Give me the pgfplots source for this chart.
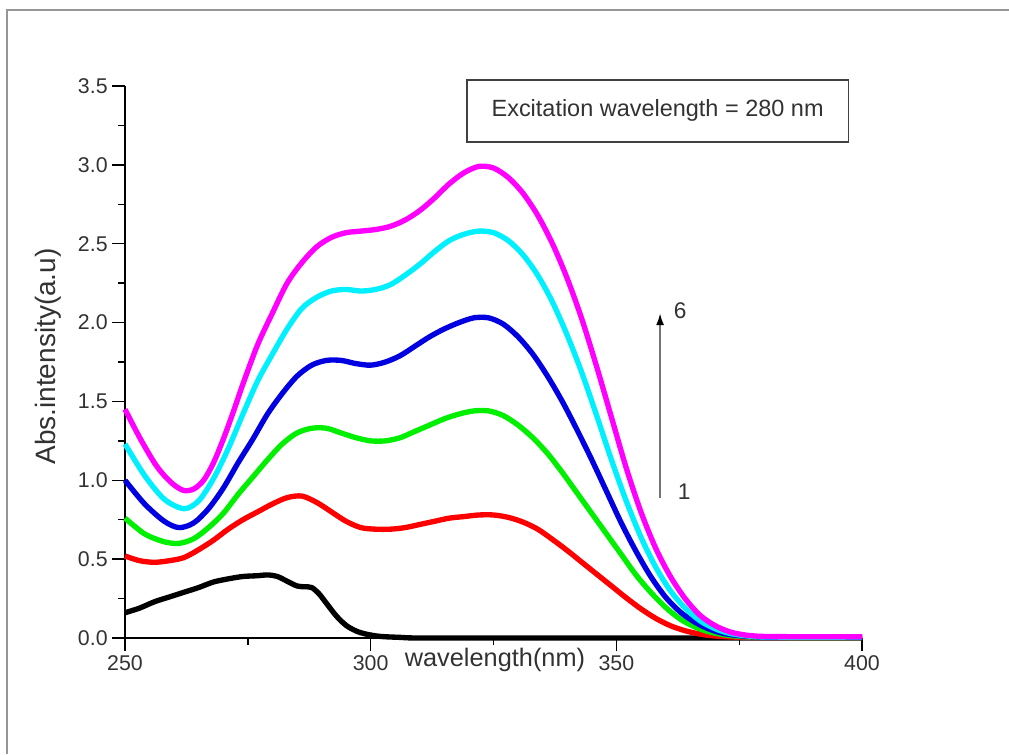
\documentclass[border=0pt]{standalone}
\usepackage{pgfplots}
\pgfplotsset{compat=1.18}
\usetikzlibrary{arrows.meta}
\usepackage{fontspec}
\setmainfont{Liberation Sans}
\definecolor{cMag}{RGB}{255,0,255}
\definecolor{cCyan}{RGB}{0,240,255}
\definecolor{cBlue}{RGB}{0,0,225}
\definecolor{cGreen}{RGB}{0,240,0}
\definecolor{cRed}{RGB}{255,0,0}
\definecolor{frameGray}{RGB}{150,150,150}
\definecolor{txt}{RGB}{50,50,50}
\begin{document}
\begin{tikzpicture}[x=0.75pt,y=0.75pt]
\path[use as bounding box] (0,0) rectangle (1009,754);
\draw[frameGray, line width=2.2pt] (7,0) -- (7,744) -- (1009,744);
\begin{axis}[
  at={(93.75pt,87pt)}, anchor=south west,
  scale only axis, width=552.75pt, height=414pt,
  xmin=250, xmax=400, ymin=0, ymax=3.5,
  axis x line=bottom, axis y line=left,
  axis line style={-, line width=1.2pt},
  xtick={250,300,350,400}, minor x tick num=1,
  ytick={0,0.5,1,1.5,2,2.5,3,3.5}, minor y tick num=1,
  tick align=outside,
  major tick length=9.5pt, minor tick length=5pt,
  tick style={black, line width=1pt},
  /pgf/number format/assume math mode=true,
  yticklabel style={/pgf/number format/.cd, fixed, fixed zerofill, precision=1},
  xticklabel style={/pgf/number format/.cd, fixed, precision=0},
  ticklabel style={font=\fontsize{16}{18}\selectfont, text=txt},
  xlabel={wavelength(nm)},
  xlabel style={at={(axis description cs:0.502,0)}, anchor=center, yshift=-16.5pt, font=\fontsize{19}{22}\selectfont, text=txt},
  ylabel={Abs.intensity(a.u)},
  ylabel style={at={(axis description cs:-0.1045,0.51)}, anchor=center, font=\fontsize{21}{24}\selectfont, text=txt},
  clip=false,
  every axis plot/.append style={line width=4pt, smooth, line join=round},
]
% 1 black
\addplot[black] coordinates {
(250,0.16)(253,0.19)(256,0.23)(259,0.26)(262,0.29)(265,0.32)(268,0.355)(271,0.375)(274,0.39)(277,0.395)(279,0.40)(281,0.39)(283,0.36)(285,0.33)(286.5,0.325)(288,0.32)(289.5,0.28)(291,0.22)(293,0.14)(295,0.08)(297,0.045)(299,0.025)(302,0.01)(306,0.004)(310,0)(330,0)(360,0)(400,0)};
% 2 red
\addplot[cRed] coordinates {
(250,0.52)(253,0.49)(256,0.48)(259,0.49)(262,0.51)(265,0.56)(268,0.62)(271,0.69)(274,0.75)(277,0.80)(280,0.85)(283,0.89)(286,0.90)(289,0.86)(292,0.80)(295,0.74)(298,0.70)(301,0.69)(304,0.69)(307,0.70)(310,0.72)(313,0.74)(316,0.76)(319,0.77)(322,0.78)(325,0.78)(328,0.765)(331,0.735)(334,0.69)(337,0.625)(340,0.555)(343,0.48)(346,0.405)(349,0.33)(352,0.255)(355,0.185)(358,0.125)(361,0.078)(364,0.046)(367,0.025)(370,0.013)(375,0.005)(385,0.003)(400,0.003)};
% 3 green
\addplot[cGreen] coordinates {
(250,0.76)(254,0.66)(258,0.61)(261,0.60)(264,0.63)(267,0.70)(270,0.79)(273,0.91)(276,1.02)(279,1.13)(282,1.23)(285,1.30)(288,1.33)(291,1.33)(294,1.30)(297,1.27)(300,1.25)(303,1.25)(306,1.27)(309,1.31)(312,1.35)(315,1.39)(318,1.42)(321,1.44)(324,1.44)(327,1.41)(330,1.35)(333,1.27)(336,1.17)(339,1.05)(342,0.92)(345,0.79)(348,0.66)(351,0.53)(354,0.40)(357,0.29)(360,0.195)(363,0.12)(366,0.07)(369,0.038)(373,0.016)(378,0.006)(388,0.004)(400,0.004)};
% 4 blue
\addplot[cBlue] coordinates {
(250,1.00)(254,0.85)(258,0.74)(261,0.70)(264,0.73)(267,0.82)(270,0.95)(273,1.11)(276,1.26)(279,1.42)(282,1.55)(285,1.66)(288,1.73)(291,1.76)(294,1.76)(297,1.74)(300,1.73)(303,1.75)(306,1.79)(309,1.85)(312,1.91)(315,1.96)(318,2.00)(321,2.03)(324,2.03)(327,1.99)(330,1.91)(333,1.80)(336,1.66)(339,1.50)(342,1.32)(345,1.13)(348,0.93)(351,0.73)(354,0.55)(357,0.39)(360,0.26)(363,0.165)(366,0.10)(369,0.055)(372,0.028)(376,0.012)(382,0.005)(400,0.005)};
% 5 cyan
\addplot[cCyan] coordinates {
(250,1.23)(254,1.03)(258,0.88)(262,0.82)(265,0.87)(268,1.01)(271,1.20)(274,1.42)(277,1.63)(280,1.80)(283,1.96)(286,2.09)(289,2.16)(292,2.20)(295,2.21)(298,2.20)(301,2.21)(304,2.24)(307,2.30)(310,2.37)(313,2.45)(316,2.52)(319,2.56)(322,2.58)(325,2.57)(328,2.52)(331,2.43)(334,2.30)(337,2.13)(340,1.92)(343,1.68)(346,1.41)(349,1.13)(352,0.87)(355,0.64)(358,0.45)(361,0.30)(364,0.19)(367,0.11)(370,0.06)(373,0.03)(377,0.012)(382,0.006)(400,0.006)};
% 6 magenta
\addplot[cMag] coordinates {
(250,1.45)(253,1.27)(256,1.11)(258,1.03)(260,0.97)(262,0.935)(264,0.945)(266,1.00)(268,1.11)(270,1.26)(272,1.43)(274,1.61)(277,1.86)(280,2.06)(283,2.25)(286,2.38)(289,2.48)(292,2.54)(295,2.57)(298,2.58)(301,2.59)(304,2.61)(307,2.65)(310,2.71)(313,2.79)(316,2.88)(319,2.95)(322,2.99)(325,2.98)(328,2.92)(331,2.82)(334,2.68)(337,2.50)(340,2.28)(343,2.02)(346,1.72)(349,1.40)(352,1.08)(355,0.80)(358,0.57)(361,0.39)(364,0.25)(367,0.145)(370,0.08)(373,0.04)(376,0.02)(380,0.01)(390,0.008)(400,0.008)};
% annotation box
\draw[black!75, line width=1.1pt] (axis cs:319.6,3.145) rectangle (axis cs:397.2,3.538);
\node[font=\fontsize{17.6}{20}\selectfont, text=txt] at (axis cs:358.4,3.345) {Excitation wavelength = 280 nm};
% arrow
\draw[black!55, line width=1.5pt, -{Latex[length=9pt,width=6pt,black]}] (axis cs:358.9,0.885) -- (axis cs:358.9,2.06);
\node[font=\fontsize{17}{20}\selectfont, text=txt] at (axis cs:363.0,2.075) {6};
\node[font=\fontsize{17}{20}\selectfont, text=txt] at (axis cs:363.8,0.93) {1};
\end{axis}
\end{tikzpicture}
\end{document}
